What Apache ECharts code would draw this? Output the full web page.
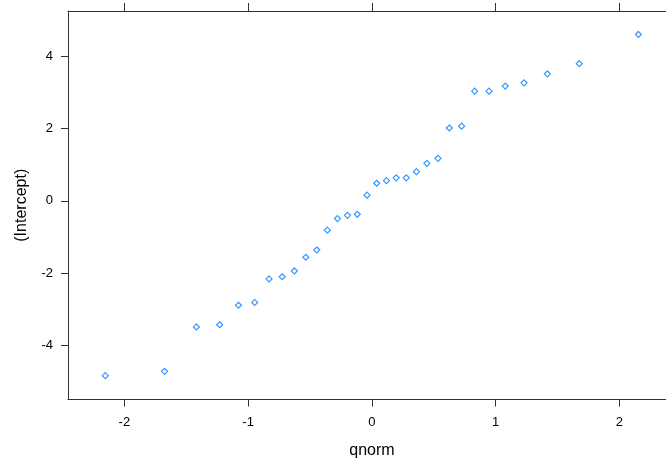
<!DOCTYPE html>
<html>
<head>
<meta charset="utf-8">
<script src="https://cdn.jsdelivr.net/npm/echarts@6/dist/echarts.min.js"></script>
<style>
  html, body { margin: 0; padding: 0; background: #fff; }
  #chart { width: 666px; height: 464px; }
</style>
</head>
<body>
<div id="chart"></div>
<script>
// Theoretical normal quantiles (32 points)
var qnormValues = [
  -2.154, -1.676, -1.418, -1.230, -1.078, -0.947, -0.831, -0.725,
  -0.626, -0.534, -0.445, -0.360, -0.278, -0.197, -0.118, -0.039,
   0.039,  0.118,  0.197,  0.278,  0.360,  0.445,  0.534,  0.626,
   0.725,  0.831,  0.947,  1.078,  1.230,  1.418,  1.676,  2.154
];
// Sorted (Intercept) estimates
var interceptValues = [
  -4.84, -4.72, -3.49, -3.43, -2.89, -2.81, -2.16, -2.10,
  -1.94, -1.56, -1.36, -0.81, -0.49, -0.40, -0.37,  0.16,
   0.49,  0.56,  0.64,  0.64,  0.81,  1.04,  1.18,  2.02,
   2.07,  3.04,  3.04,  3.18,  3.27,  3.52,  3.80,  4.61
];
var xTicks = [-2, -1, 0, 1, 2];
var yTicks = [-4, -2, 0, 2, 4];

var points = qnormValues.map(function (q, i) { return [q, interceptValues[i]]; });

var FONT = '"Liberation Sans", Arial, sans-serif';
var lineColor = '#333';

// The panel runs past the right edge of the canvas, so the x range stops at the canvas edge.
var X_MIN = -2.4556, X_MAX = 2.377;

var chart = echarts.init(document.getElementById('chart'), null, { renderer: 'canvas' });
chart.setOption({
  animation: false,
  backgroundColor: '#fff',
  grid: { left: 68, top: 11, right: 0, bottom: 64.5, containLabel: false },
  xAxis: [
    {
      type: 'value', position: 'bottom', min: X_MIN, max: X_MAX,
      name: 'qnorm', nameLocation: 'middle', nameGap: 43,
      nameTextStyle: { fontFamily: FONT, fontSize: 16, color: '#000', padding: [0, 0, 0, 10] },
      splitLine: { show: false },
      axisLine: { show: true, onZero: false, lineStyle: { color: lineColor, width: 1 } },
      axisTick: { show: true, length: 7, customValues: xTicks, lineStyle: { color: lineColor } },
      axisLabel: { show: true, margin: 16, customValues: xTicks, fontFamily: FONT, fontSize: 13, color: '#000' }
    },
    {
      type: 'value', position: 'top', min: X_MIN, max: X_MAX,
      splitLine: { show: false },
      axisLine: { show: true, onZero: false, lineStyle: { color: lineColor, width: 1 } },
      axisTick: { show: true, length: 8, customValues: xTicks, lineStyle: { color: lineColor } },
      axisLabel: { show: false }
    }
  ],
  yAxis: {
    type: 'value', min: -5.5, max: 5.26,
    name: '(Intercept)', nameLocation: 'middle', nameGap: 38, nameRotate: 90,
    nameTextStyle: { fontFamily: FONT, fontSize: 16, color: '#000' },
    splitLine: { show: false },
    axisLine: { show: true, onZero: false, lineStyle: { color: lineColor, width: 1 } },
    axisTick: { show: true, length: 7, customValues: yTicks, lineStyle: { color: lineColor } },
    axisLabel: { show: true, margin: 15, customValues: yTicks, fontFamily: FONT, fontSize: 13, color: '#000' }
  },
  series: [{
    type: 'scatter',
    xAxisIndex: 0,
    data: points,
    symbol: 'diamond',
    symbolSize: 6,
    itemStyle: { color: '#fff', borderColor: '#0080ff', borderWidth: 1.2 }
  }]
});
</script>
</body>
</html>
